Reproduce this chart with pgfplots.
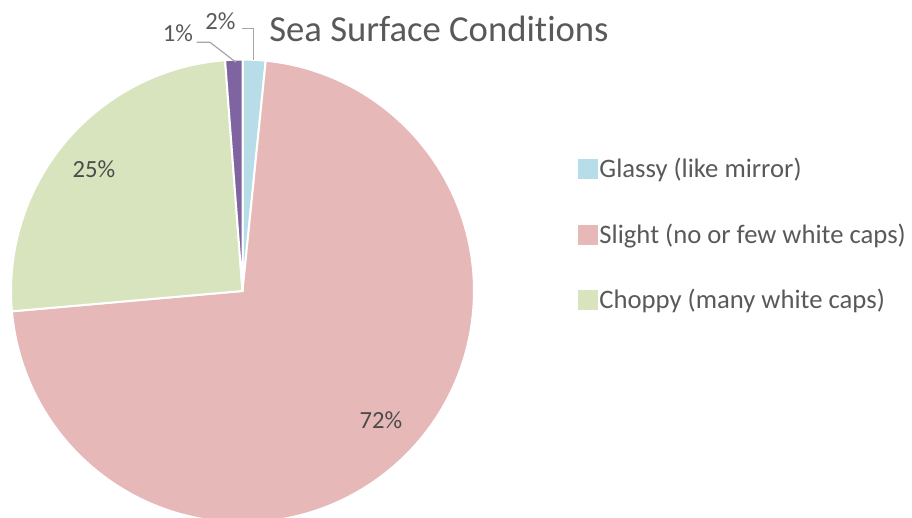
\documentclass[border=0pt]{standalone}
\usepackage{fontspec}
\setmainfont{Carlito}[Ligatures=NoCommon]
\usepackage{pgfplots}
\pgfplotsset{compat=1.18}

\definecolor{glassy}{HTML}{B7DEE8}
\definecolor{slight}{HTML}{E6B9B8}
\definecolor{choppy}{HTML}{D7E4BD}
\definecolor{rough}{HTML}{8064A2}
\definecolor{txt}{HTML}{595959}
\definecolor{lead}{HTML}{A6A6A6}

\begin{document}
\begin{tikzpicture}
  % one axis unit = one pixel of the reference, y measured from the bottom
  \begin{axis}[
    name=pie,
    x=0.75pt, y=0.75pt,
    xmin=0, xmax=912, ymin=0, ymax=517,
    hide axis, clip=true,
    legend style={
      at={(axis cs:578,361)}, anchor=north west,
      draw=none, fill=none, font=\fontsize{20}{22}\selectfont, text=txt,
      row sep=30pt, inner sep=0pt,
      nodes={inner sep=1.5pt},
    },
    legend cell align=left,
    legend image code/.code={\fill[#1] (0pt,-7pt) rectangle (14pt,7pt);},
  ]
    \addlegendimage{glassy}
    \addlegendentry{Glassy (like mirror)}
    \addlegendimage{slight}
    \addlegendentry{Slight (no or few white caps)}
    \addlegendimage{choppy}
    \addlegendentry{Choppy (many white caps)}

    % slices clockwise from 12 o'clock, values in percent
    \pgfplotsextra{
      \foreach \v/\c [remember=\e as \s (initially 90)] in {1.6/glassy, 72.0/slight, 25.2/choppy, 1.2/rough} {
        \pgfmathsetmacro{\e}{\s - 3.6*\v}
        \fill[\c, draw=white, line width=1.5pt] (axis cs:242.5,226) -- ++(\s:173.6pt)
          arc[start angle=\s, end angle=\e, radius=173.6pt] -- cycle;
      }
    }

    \draw[lead, line width=0.9pt] (axis cs:241.7,488.7) -- (axis cs:253.3,488.7) -- (axis cs:253.3,457);
    \draw[lead, line width=0.9pt] (axis cs:196.7,474.7) -- (axis cs:210,474.7) -- (axis cs:236,454.7);

    \node[txt, font=\fontsize{18.5}{20}\selectfont] at (axis cs:220.5,496) {2\%};
    \node[txt, font=\fontsize{18.5}{20}\selectfont] at (axis cs:178,484) {1\%};
    \node[txt!85!black, font=\fontsize{18.5}{20}\selectfont] at (axis cs:94,348) {25\%};
    \node[txt!85!black, font=\fontsize{18.5}{20}\selectfont] at (axis cs:381,96.5) {72\%};

    \node[txt, font=\fontsize{27.5}{30}\selectfont] at (axis cs:439,488) {Sea Surface Conditions};
  \end{axis}
  \pgfresetboundingbox
  \path[use as bounding box] (pie.south west) rectangle (pie.north east);
\end{tikzpicture}
\end{document}
